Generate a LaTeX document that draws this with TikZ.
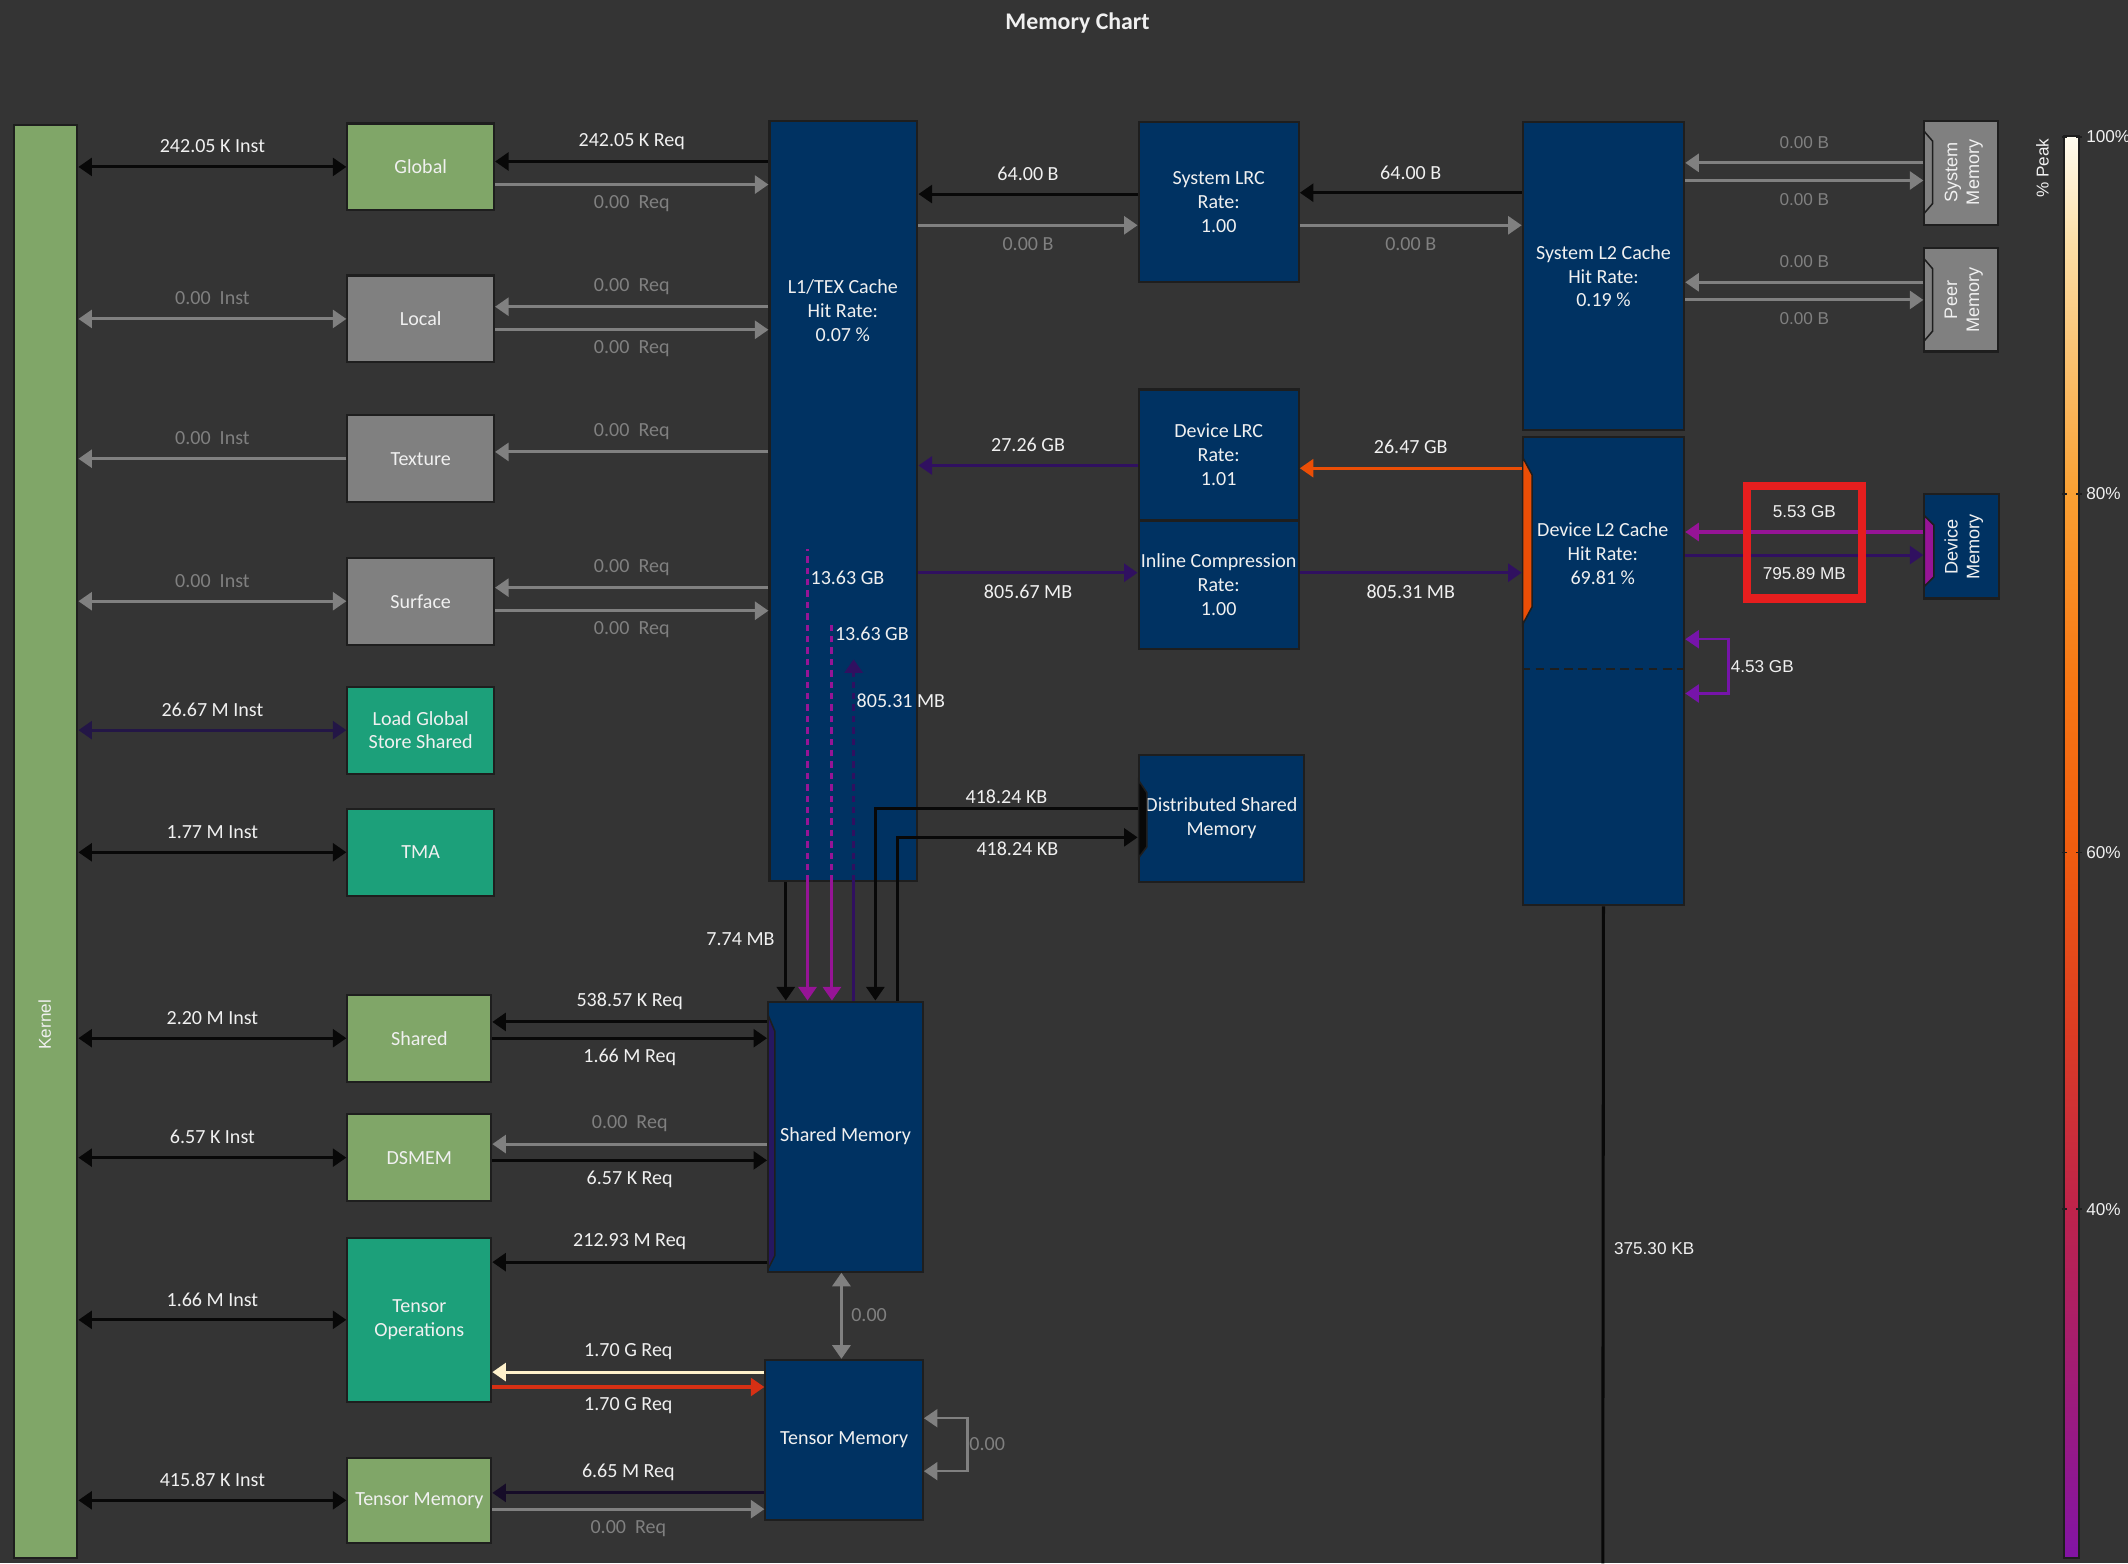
\documentclass[tikz,border=0pt]{standalone}
\usepackage{fontspec}
\setmainfont{Carlito}
\newfontfamily\widefont{Liberation Sans}
\usetikzlibrary{arrows.meta,fit}

\definecolor{bgc}{RGB}{52,52,52}
\definecolor{txt}{RGB}{240,240,240}
\definecolor{boxline}{RGB}{30,30,30}
\definecolor{navy}{RGB}{0,50,98}
\definecolor{kgreen}{RGB}{128,166,104}
\definecolor{ggray}{RGB}{128,128,128}
\definecolor{teal}{RGB}{28,160,122}
\definecolor{lblack}{RGB}{8,8,8}
\definecolor{lgray}{RGB}{128,128,128}
\definecolor{dpur}{RGB}{48,16,96}
\definecolor{npur}{RGB}{35,22,70}
\definecolor{vdark}{RGB}{22,12,40}
\definecolor{orng}{RGB}{235,78,6}
\definecolor{mag}{RGB}{150,20,150}
\definecolor{pur}{RGB}{118,20,170}
\definecolor{cream}{RGB}{255,242,204}
\definecolor{redo}{RGB}{214,48,20}
\definecolor{redc}{RGB}{230,30,30}
\definecolor{gA}{RGB}{255,252,240}
\definecolor{gB}{RGB}{252,222,165}
\definecolor{gC}{RGB}{250,160,50}
\definecolor{gD}{RGB}{248,120,20}
\definecolor{gE}{RGB}{240,92,15}
\definecolor{gF}{RGB}{220,60,35}
\definecolor{gG}{RGB}{190,35,75}
\definecolor{gH}{RGB}{130,20,165}

\tikzset{
  box/.style={draw=boxline, line width=1.1pt, inner sep=0pt},
  lab/.style={text=txt, inner sep=0pt, align=center},
  boxtext/.style={label={[lab]center:#1}},
  glab/.style={lab, text=lgray},
  wlab/.style={lab, font=\widefont\fontsize{9}{11}\selectfont},
  wglab/.style={wlab, text=lgray},
  ab/.style={midway, yshift=3.75mm},
  be/.style={midway, yshift=-3.5mm},
  flow/.style={line width=1.6pt},
  blk/.style={flow, draw=lblack},
  gry/.style={flow, draw=lgray},
  notch/.style={draw=boxline, line width=0.8pt},
}

\begin{document}
\begin{tikzpicture}[x=0.25mm, y=-0.25mm, >={Triangle[length=2.5mm,width=3.3mm]},
  font=\fontsize{10.5}{12.5}\selectfont]
\fill[bgc] (0,0) rectangle (1568,1152);
\useasboundingbox (0,0) rectangle (1568,1152);

\node[lab, font=\bfseries\fontsize{12.5}{14}\selectfont] (title) at (794,17) {Memory Chart};

% kernel and units
\node[box, fill=kgreen, fit={(10,92) (57,1148)}] (kernel) {};
\node[wlab, rotate=90] (kerneltxt) at (33,755) {Kernel};

\node[box, fill=kgreen, fit={(256,91) (364,155)}, boxtext=Global] (global) {};
\node[box, fill=ggray, fit={(256,203) (364,267)}, boxtext=Local] (local) {};
\node[box, fill=ggray, fit={(256,306) (364,370)}, boxtext=Texture] (texture) {};
\node[box, fill=ggray, fit={(256,411) (364,475)}, boxtext=Surface] (surface) {};
\node[box, fill=teal, fit={(256,506) (364,570)}, boxtext={Load Global\\Store Shared}] (ldgsts) {};
\node[box, fill=teal, fit={(256,596) (364,660)}, boxtext=TMA] (tma) {};
\node[box, fill=kgreen, fit={(256,733) (362,797)}, boxtext=Shared] (shared) {};
\node[box, fill=kgreen, fit={(256,821) (362,885)}, boxtext=DSMEM] (dsmem) {};
\node[box, fill=teal, fit={(256,912) (362,1033)}, boxtext={Tensor\\Operations}] (tensorop) {};
\node[box, fill=kgreen, fit={(256,1074) (362,1137)}, boxtext={Tensor Memory}] (tmemop) {};

% caches and memories
\node[box, fill=navy, fit={(567,89) (676,649)}] (l1) {};
\node[lab] (l1txt) at (621,229) {L1/TEX Cache\\Hit Rate:\\0.07 \%};
\node[box, fill=navy, fit={(839,90) (957,208)}, boxtext={System LRC\\Rate:\\1.00}] (slrc) {};
\node[box, fill=navy, fit={(839,287) (957,383)}, boxtext={Device LRC\\Rate:\\1.01}] (dlrc) {};
\node[box, fill=navy, fit={(839,384) (957,478)}, boxtext={Inline Compression\\Rate:\\1.00}] (icomp) {};
\node[box, fill=navy, fit={(839,556) (961,650)}, boxtext={Distributed Shared\\Memory}] (dsm) {};
\node[box, fill=navy, fit={(1122,90) (1241,317)}, boxtext={System L2 Cache\\Hit Rate:\\0.19 \%}] (sl2) {};
\node[box, fill=navy, fit={(1122,322) (1241,667)}] (dl2) {};
\node[lab] (dl2txt) at (1181,408) {Device L2 Cache\\Hit Rate:\\69.81 \%};
\draw[boxline, line width=1pt, dash pattern=on 1.6mm off 1mm] (dl2.west |- 0,493) -- (dl2.east |- 0,493);
\node[box, fill=ggray, fit={(1418,89) (1472,166)}] (smem) {};
\node[wlab, font=\widefont\fontsize{9.5}{11.5}\selectfont, rotate=90] (smemtxt) at (1447,127) {System\\Memory};
\node[box, fill=ggray, fit={(1418,183) (1472,259)}] (pmem) {};
\node[wlab, font=\widefont\fontsize{9.5}{11.5}\selectfont, rotate=90] (pmemtxt) at (1447,221) {Peer\\Memory};
\node[box, fill=navy, fit={(1418,364) (1473,441)}] (dmem) {};
\node[wlab, font=\widefont\fontsize{9.5}{11.5}\selectfont, rotate=90] (dmemtxt) at (1447,403) {Device\\Memory};
\node[box, fill=navy, fit={(566,738) (680,937)}, boxtext={Shared Memory}] (shm) {};
\node[box, fill=navy, fit={(564,1002) (680,1120)}, boxtext={Tensor Memory}] (tmem) {};

% port notches
\filldraw[notch, fill=orng] (1122,337) -- (1129,350) -- (1129,447) -- (1122,460) -- cycle;
\filldraw[notch, fill=lblack] (839,575) -- (845,584) -- (845,624) -- (839,632) -- cycle;
\filldraw[notch, fill=dpur!80!navy] (566,748) -- (571,760) -- (571,925) -- (566,935) -- cycle;
\filldraw[notch, fill=mag] (1418,380) -- (1425,387) -- (1425,425) -- (1418,432) -- cycle;
\draw[notch] (1418,97) -- (1424,104) -- (1424,150) -- (1418,157);
\draw[notch] (1418,191) -- (1424,198) -- (1424,244) -- (1418,251);

% kernel <-> units
\draw[blk,<->] (kernel.east |- global.west) -- (global.west) node[lab,ab] (i1) {242.05 K Inst};
\draw[gry,<->] (kernel.east |- local.west) -- (local.west) node[glab,ab] (i2) {0.00~~Inst};
\draw[gry,->] (texture.west) -- (kernel.east |- texture.west) node[glab,ab] (i3) {0.00~~Inst};
\draw[gry,<->] (kernel.east |- surface.west) -- (surface.west) node[glab,ab] (i4) {0.00~~Inst};
\draw[flow, draw=npur, <->] (kernel.east |- ldgsts.west) -- (ldgsts.west) node[lab,ab] (i5) {26.67 M Inst};
\draw[blk,<->] (kernel.east |- tma.west) -- (tma.west) node[lab,ab] (i6) {1.77 M Inst};
\draw[blk,<->] (kernel.east |- shared.west) -- (shared.west) node[lab,ab] (i7) {2.20 M Inst};
\draw[blk,<->] (kernel.east |- dsmem.west) -- (dsmem.west) node[lab,ab] (i8) {6.57 K Inst};
\draw[blk,<->] (kernel.east |- tensorop.west) -- (tensorop.west) node[lab,ab] (i9) {1.66 M Inst};
\draw[blk,<->] (kernel.east |- tmemop.west) -- (tmemop.west) node[lab,ab] (i10) {415.87 K Inst};

% units <-> L1
\draw[blk,->] (l1.west |- 0,119) -- (global.east |- 0,119) node[lab,ab] (q1) {242.05 K Req};
\draw[gry,->] (global.east |- 0,136) -- (l1.west |- 0,136) node[glab,be] (q2) {0.00~~Req};
\draw[gry,->] (l1.west |- 0,226) -- (local.east |- 0,226) node[glab,ab] (q3) {0.00~~Req};
\draw[gry,->] (local.east |- 0,243) -- (l1.west |- 0,243) node[glab,be] (q4) {0.00~~Req};
\draw[gry,->] (l1.west |- 0,333) -- (texture.east |- 0,333) node[glab,ab] (q5) {0.00~~Req};
\draw[gry,->] (l1.west |- 0,433) -- (surface.east |- 0,433) node[glab,ab] (q6) {0.00~~Req};
\draw[gry,->] (surface.east |- 0,450) -- (l1.west |- 0,450) node[glab,be] (q7) {0.00~~Req};

% L1 <-> LRC <-> L2
\draw[blk,->] (slrc.west |- 0,143) -- (l1.east |- 0,143) node[lab,ab] (b1) {64.00 B};
\draw[gry,->] (l1.east |- 0,166) -- (slrc.west |- 0,166) node[glab,be] (b2) {0.00 B};
\draw[blk,->] (sl2.west |- 0,142) -- (slrc.east |- 0,142) node[lab,ab] (b3) {64.00 B};
\draw[gry,->] (slrc.east |- 0,166) -- (sl2.west |- 0,166) node[glab,be] (b4) {0.00 B};
\draw[flow, draw=dpur, ->] (dlrc.west |- 0,343) -- (l1.east |- 0,343) node[lab,ab] (b5) {27.26 GB};
\draw[flow, draw=orng, ->] (dl2.west |- 0,345) -- (dlrc.east |- 0,345) node[lab,midway,yshift=4mm] (b6) {26.47 GB};
\draw[flow, draw=dpur, ->] (l1.east |- 0,422) -- (icomp.west |- 0,422) node[lab,be] (b7) {805.67 MB};
\draw[flow, draw=dpur, ->] (icomp.east |- 0,422) -- (dl2.west |- 0,422) node[lab,be] (b8) {805.31 MB};

% L2 <-> memories
\draw[gry,->] (smem.west |- 0,120) -- (sl2.east |- 0,120) node[wglab,ab] (m1) {0.00 B};
\draw[gry,->] (sl2.east |- 0,133) -- (smem.west |- 0,133) node[wglab,be] (m2) {0.00 B};
\draw[gry,->] (pmem.west |- 0,208) -- (sl2.east |- 0,208) node[wglab,ab] (m3) {0.00 B};
\draw[gry,->] (sl2.east |- 0,221) -- (pmem.west |- 0,221) node[wglab,be] (m4) {0.00 B};
\draw[flow, draw=mag, ->] (dmem.west |- 0,392) -- (dl2.east |- 0,392) node[wlab,ab] (m5) {5.53 GB};
\draw[flow, draw=dpur, ->] (dl2.east |- 0,409) -- (dmem.west |- 0,409) node[wlab,be] (m6) {795.89 MB};
\draw[redc, line width=4.2pt] (1287,358) rectangle (1372,441);
\draw[flow, draw=pur, line width=1.3pt, <->] (dl2.east |- 0,471) -- ++(32,0) -- ++(0,40) -- ++(-32,0);
\node[wlab, anchor=west] (m7) at (1275,491) {4.53 GB};
\coordinate (dl2end) at (1181,1152);
\draw[blk] (dl2.south) -- (dl2end);
\node[wlab, anchor=west] (m8) at (1189,920) {375.30 KB};

% L1 / DSM -> shared memory
\draw[blk,->] (l1.south -| 579,0) -- (shm.north -| 579,0);
\node[lab, anchor=east] (v1) at (571,692) {7.74 MB};
\draw[flow, draw=mag, dash pattern=on 1.2mm off 0.9mm] (l1.south -| 595,0) -- ++(0,-245);
\draw[flow, draw=mag, ->] (l1.south -| 595,0) -- (shm.north -| 595,0);
\node[lab, anchor=west] (v2) at (597,426) {13.63 GB};
\draw[flow, draw=mag, dash pattern=on 1.2mm off 0.9mm] (l1.south -| 613,0) -- ++(0,-192);
\draw[flow, draw=mag, ->] (l1.south -| 613,0) -- (shm.north -| 613,0);
\node[lab, anchor=west] (v3) at (615,467) {13.63 GB};
\draw[flow, draw=dpur] (shm.north -| 629,0) -- (l1.south -| 629,0);
\draw[flow, draw=dpur, dash pattern=on 1.2mm off 0.9mm, ->] (l1.south -| 629,0) -- ++(0,-164);
\node[lab, anchor=west] (v4) at (631,516) {805.31 MB};
\draw[blk,->] (dsm.west |- 0,596) -| (shm.north -| 645,0) node[lab, pos=0.25, yshift=2.3mm] (v5) {418.24 KB};
\draw[blk,->] (shm.north -| 661,0) |- (dsm.west |- 0,617) node[lab, pos=0.75, yshift=-2.1mm] (v6) {418.24 KB};

% shared / tensor memory <-> units
\draw[blk,->] (shm.west |- 0,753) -- (shared.east |- 0,753) node[lab,ab] (s1) {538.57 K Req};
\draw[blk,->] (shared.east |- 0,765) -- (shm.west |- 0,765) node[lab,be] (s2) {1.66 M Req};
\draw[gry,->] (shm.west |- 0,843) -- (dsmem.east |- 0,843) node[glab,ab] (s3) {0.00~~Req};
\draw[blk,->] (dsmem.east |- 0,855) -- (shm.west |- 0,855) node[lab,be] (s4) {6.57 K Req};
\draw[blk,->] (shm.west |- 0,930) -- (tensorop.east |- 0,930) node[lab,ab] (s5) {212.93 M Req};
\draw[gry,<->] (shm.south -| 620,0) -- (tmem.north -| 620,0);
\node[glab, anchor=west] (s6) at (627,969) {0.00};
\draw[flow, draw=cream, ->] (tmem.west |- 0,1011) -- (tensorop.east |- 0,1011) node[lab,ab] (s7) {1.70 G Req};
\draw[flow, draw=redo, ->] (tensorop.east |- 0,1022) -- (tmem.west |- 0,1022) node[lab,be] (s8) {1.70 G Req};
\draw[gry, line width=1.3pt, <->] (tmem.east |- 0,1045) -- ++(32,0) -- ++(0,39) -- ++(-32,0);
\node[glab, anchor=west] (s9) at (714,1064) {0.00};
\draw[flow, draw=vdark, ->] (tmem.west |- 0,1100) -- (tmemop.east |- 0,1100) node[lab,ab] (s10) {6.65 M Req};
\draw[gry,->] (tmemop.east |- 0,1112) -- (tmem.west |- 0,1112) node[glab,be] (s11) {0.00~~Req};

% peak scale
\foreach \ya/\yb/\ca/\cb in {100/180/gA/gB, 180/364/gB/gC, 364/500/gC/gD, 500/628/gD/gE,
    628/760/gE/gF, 760/891/gF/gG, 891/1148/gG/gH}
  \shade[top color=\ca, bottom color=\cb] (1521,\ya) rectangle (1532,\yb);
\draw[boxline, line width=1.2pt] (1521,100) rectangle (1532,1148);
\foreach \yy/\pc in {101/100, 364/80, 628/60, 891/40} {
  \draw[boxline, line width=0.8pt] (1519,\yy) -- (1523,\yy) (1530,\yy) -- (1534,\yy);
  \node[wlab, anchor=west] (pk\pc) at (1537,\yy) {\pc\%};
}
\node[wlab, rotate=90] (peak) at (1505,124) {\% Peak};
\end{tikzpicture}
\end{document}
